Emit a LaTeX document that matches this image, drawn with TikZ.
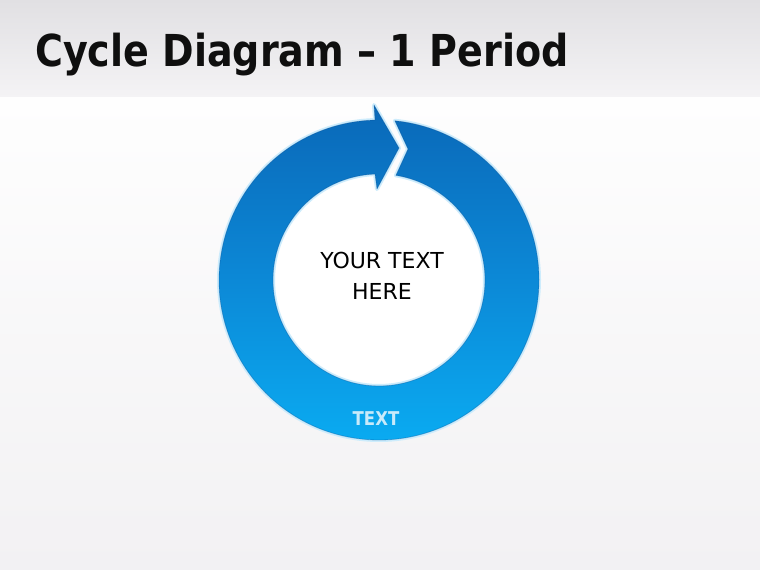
\documentclass[tikz,border=0pt]{standalone}
\usepackage{fontspec}
\setmainfont{DejaVu Sans}
\definecolor{barTop}{RGB}{225,224,227}
\definecolor{barBot}{RGB}{244,243,245}
\definecolor{bgTop}{RGB}{254,254,254}
\definecolor{bgBot}{RGB}{242,241,243}
\definecolor{ringTop}{RGB}{10,104,184}
\definecolor{ringMid}{RGB}{12,136,214}
\definecolor{ringBot}{RGB}{10,172,242}
\definecolor{ringEdge}{RGB}{8,80,150}
\definecolor{glow}{RGB}{205,236,252}
\definecolor{labelCol}{RGB}{200,234,250}
\definecolor{titleCol}{RGB}{15,15,15}
\tikzset{
  titletext/.style={anchor=base west, inner sep=0pt, text=titleCol,
    font=\fontsize{44}{50}\selectfont\bfseries},
  bodytext/.style={anchor=base, inner sep=0pt, align=center, text=black,
    font=\fontsize{22}{31}\selectfont},
  ringlabel/.style={anchor=base, inner sep=0pt, text=labelCol,
    font=\fontsize{19}{22}\selectfont\bfseries},
}
\begin{document}
\begin{tikzpicture}[x=1pt,y=1pt]
\useasboundingbox (0,0) rectangle (760,570);
% background
\shade[top color=bgTop, bottom color=bgBot] (0,0) rectangle (760,473);
\shade[top color=barTop, bottom color=barBot] (0,473) rectangle (760,570);
% title
\node[titletext] (title) at (35,503) {\scalebox{0.865}[1]{Cycle Diagram – 1 Period}};
% ring arrow
\begin{scope}[shift={(379,290)}]
  \fill[white] (0,0) circle[radius=108];
  \def\ringpath{(84.3:160) arc[start angle=84.3, end angle=-268.57, radius=160]
    -- (-5,175) -- (20,132) -- (-2,91) -- (-4,105.92)
    arc[start angle=-267.84, end angle=80.8, radius=106]
    -- (29,131) -- cycle}
  \draw[glow, line width=4pt, line join=round] \ringpath;
  \shade[top color=ringTop, bottom color=ringBot, middle color=ringMid] \ringpath;
  \draw[ringEdge, opacity=0.35, line width=0.8pt, line join=round] \ringpath;
\end{scope}
% texts
\node[bodytext] (centre) at (382,270) {YOUR TEXT\\HERE};
\node[ringlabel] (label) at (376,144) {\scalebox{0.87}[1]{TEXT}};
\end{tikzpicture}
\end{document}
